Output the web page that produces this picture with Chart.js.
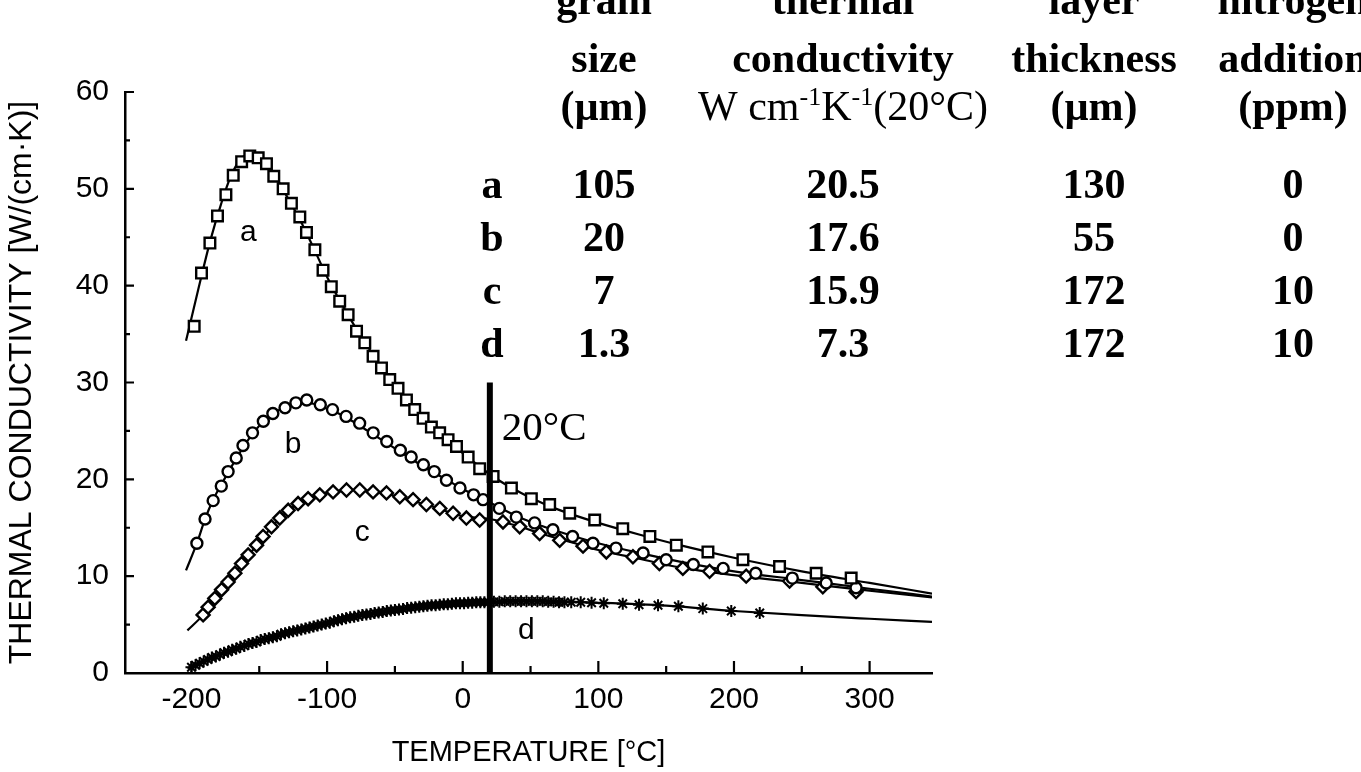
<!DOCTYPE html>
<html>
<head>
<meta charset="utf-8">
<script src="https://cdn.jsdelivr.net/npm/chart.js@4.4.1/dist/chart.umd.min.js"></script>
<style>
  html, body { margin: 0; padding: 0; background: #fff; }
  #wrap { position: relative; width: 1361px; height: 772px; }
</style>
</head>
<body>
<div id="wrap"><canvas id="kappa"></canvas></div>
<script>
// axis ticks: temperature (°C) and thermal conductivity (W/(cm·K))
var tempTicks = [-200, -150, -100, -50, 0, 50, 100, 150, 200, 250, 300];
var condTicks = [0, 5, 10, 15, 20, 25, 30, 35, 40, 45, 50, 55, 60];

// sample table
var sampleNames = ["a", "b", "c", "d"];
var grainSize = ["105", "20", "7", "1.3"];
var cond20 = [20.5, 17.6, 15.9, 7.3];
var layerThickness = ["130", "55", "172", "172"];
var nitrogenPpm = ["0", "0", "10", "10"];

// reference temperature marker
var refTemp = 20;
var refLineTop = 30;

// sample a, measured (squares)
var aTemp = [-198, -192.6, -186.4, -180.8, -174.6, -169.2, -163, -157, -150.8, -144.7,
  -139.3, -132.4, -126.3, -120.1, -115.2, -109, -103, -96.9, -90.7, -84.5,
  -78.3, -72.2, -66.1, -59.9, -53.8, -47.7, -41.5, -35.4, -29.2, -23.1,
  -17, -10.8, -4.6, 4, 12.5, 22.4, 35.9, 50.6, 64.1, 78.9,
  97.3, 118, 138, 157.5, 180.8, 206.6, 233.6, 260.6, 286.4];
var aCond = [35.8, 41.3, 44.4, 47.2, 49.4, 51.4, 52.8, 53.4, 53.2, 52.6,
  51.3, 50.0, 48.5, 47.1, 45.5, 43.7, 41.6, 39.9, 38.4, 37.0,
  35.3, 34.1, 32.7, 31.5, 30.3, 29.4, 28.2, 27.2, 26.3, 25.4,
  24.8, 24.1, 23.4, 22.3, 21.1, 20.3, 19.1, 18.0, 17.4, 16.5,
  15.8, 14.9, 14.1, 13.2, 12.5, 11.7, 11.0, 10.3, 9.8];
// sample a, fitted curve
var aFitTemp = [-204, -195, -186, -178, -171, -164, -157, -150, -143, -136,
  -128, -120, -110, -100, -90, -80, -70, -60, -50, -40,
  -30, -20, -10, 0, 10, 20, 35, 50, 70, 100,
  130, 160, 200, 250, 300, 346];
var aFitCond = [34.3, 39.6, 44.7, 48.5, 51.3, 53.0, 53.6, 53.3, 52.3, 50.8,
  48.8, 46.8, 43.9, 40.9, 38.3, 35.9, 33.7, 31.6, 29.8, 28.1,
  26.5, 25.1, 23.9, 22.7, 21.6, cond20[0], 19.2, 18.1, 16.9, 15.5,
  14.3, 13.2, 11.9, 10.5, 9.3, 8.2];

// sample b, measured (circles)
var bTemp = [-196, -190, -184, -178, -173, -167, -162, -155, -147, -140,
  -131, -123, -115, -105, -96, -86, -76, -66, -56, -46,
  -38, -29, -21, -12, -2, 8, 15, 27, 39.5, 53,
  66.5, 81, 96, 113, 133, 150, 170, 192, 216, 243,
  268, 290];
var bCond = [13.4, 15.9, 17.8, 19.3, 20.8, 22.2, 23.5, 24.8, 26.0, 26.8,
  27.4, 27.9, 28.2, 27.7, 27.2, 26.5, 25.8, 24.8, 23.9, 23.0,
  22.3, 21.5, 20.8, 19.9, 19.1, 18.4, 17.9, 17.0, 16.1, 15.5,
  14.8, 14.1, 13.4, 12.9, 12.4, 11.7, 11.2, 10.8, 10.3, 9.8,
  9.3, 8.8];
var bFitTemp = [-204, -196, -190, -184, -175, -165, -155, -145, -135, -125,
  -117, -110, -100, -90, -80, -70, -60, -50, -40, -30,
  -20, -10, 0, 10, 20, 40, 60, 80, 100, 130,
  160, 200, 250, 300, 346];
var bFitCond = [10.6, 13.4, 15.9, 17.9, 20.2, 22.6, 24.7, 26.2, 27.2, 27.8,
  28.0, 27.8, 27.3, 26.7, 25.9, 25.0, 24.1, 23.2, 22.3, 21.4,
  20.6, 19.8, 19.0, 18.3, cond20[1], 16.2, 15.1, 14.2, 13.4, 12.4,
  11.5, 10.5, 9.6, 8.7, 7.9];

// sample c, measured (diamonds)
var cTemp = [-191.4, -187.7, -182.8, -177.8, -173, -168, -163.1, -158.2, -152, -147.2,
  -141, -134.9, -128.7, -121.4, -114, -105.4, -95.6, -85.7, -75.9, -66.1,
  -56.2, -46.4, -36.6, -26.8, -16.9, -7.1, 2.7, 12.5, 29.7, 42,
  56.7, 71.5, 88.7, 105.9, 125.5, 145, 162.3, 182, 209, 241,
  265.5, 290];
var cCond = [6.0, 6.8, 7.7, 8.6, 9.4, 10.3, 11.3, 12.2, 13.2, 14.1,
  15.1, 16.0, 16.8, 17.5, 18.0, 18.4, 18.7, 18.9, 18.9, 18.7,
  18.6, 18.2, 17.9, 17.4, 17.0, 16.5, 16.0, 15.8, 15.6, 15.1,
  14.4, 13.7, 13.1, 12.5, 12.0, 11.3, 10.8, 10.5, 10.0, 9.5,
  8.9, 8.4];
var cFitTemp = [-203, -192, -180, -170, -160, -150, -140, -130, -120, -110,
  -100, -90, -80, -70, -60, -50, -40, -30, -20, -10,
  0, 20, 40, 60, 80, 100, 130, 160, 200, 250,
  300, 346];
var cFitCond = [4.4, 5.9, 8.0, 9.9, 11.8, 13.5, 15.2, 16.6, 17.6, 18.2,
  18.6, 18.8, 18.9, 18.8, 18.6, 18.3, 17.9, 17.5, 17.1, 16.6,
  16.2, cond20[2], 15.2, 14.3, 13.5, 12.7, 11.8, 10.9, 10.1, 9.3,
  8.5, 7.8];

// sample d, measured (asterisks)
var dTemp = [-200, -197, -194, -191, -188, -185, -182, -179, -176, -173,
  -170, -167, -164, -161, -158, -155, -152, -149, -146, -143,
  -140, -137, -134, -131, -128, -125, -122, -119, -116, -113,
  -110, -107, -104, -101, -98, -95, -92, -89, -86, -83,
  -80, -77, -74, -71, -68, -65, -62, -59, -56, -53,
  -50, -47, -44, -41, -38, -35, -32, -29, -26, -23,
  -20, -17, -14, -11, -8, -5, -2, 1, 4, 7,
  10, 13, 16, 19, 23, 27, 31, 35, 39, 43,
  47, 51, 55, 59, 63, 67, 71, 75, 80, 87,
  95, 104, 118, 130, 144, 159, 177, 198, 219];
var dCond = [0.6, 0.8, 1.0, 1.2, 1.4, 1.6, 1.7, 1.9, 2.1, 2.2,
  2.4, 2.5, 2.7, 2.8, 3.0, 3.1, 3.2, 3.4, 3.5, 3.6,
  3.7, 3.8, 4.0, 4.1, 4.2, 4.3, 4.4, 4.5, 4.6, 4.7,
  4.8, 4.9, 5.0, 5.1, 5.2, 5.35, 5.45, 5.55, 5.65, 5.75,
  5.8, 5.9, 6.0, 6.05, 6.1, 6.2, 6.25, 6.3, 6.4, 6.45,
  6.5, 6.55, 6.6, 6.7, 6.75, 6.8, 6.85, 6.9, 6.95, 7.0,
  7.0, 7.05, 7.1, 7.1, 7.15, 7.2, 7.2, 7.2, 7.25, 7.25,
  7.3, 7.3, 7.3, 7.3, 7.35, 7.35, 7.4, 7.4, 7.4, 7.4,
  7.4, 7.4, 7.4, 7.4, 7.35, 7.35, 7.3, 7.3, 7.3, 7.3,
  7.25, 7.2, 7.15, 7.05, 7.0, 6.9, 6.65, 6.4, 6.2];
var dFitTemp = [-203, -180, -150, -120, -90, -60, -30, 0, 20, 40, 60, 100, 150, 200, 250, 300, 346];
var dFitCond = [0.5, 1.85, 3.3, 4.5, 5.5, 6.3, 6.9, 7.2, cond20[3], 7.4, 7.4, 7.25, 6.95, 6.4, 5.97, 5.6, 5.28];

function pts(xs, ys) {
  return xs.map(function (x, i) { return { x: x, y: ys[i] }; });
}

function markers(xs, ys, style, r, bw) {
  return {
    data: pts(xs, ys),
    showLine: false,
    pointStyle: style,
    pointRadius: r,
    pointBorderWidth: bw,
    pointBorderColor: "#000",
    pointBackgroundColor: "#fff"
  };
}

function fit(xs, ys) {
  return {
    data: pts(xs, ys),
    showLine: true,
    borderColor: "#000",
    borderWidth: 2.2,
    pointRadius: 0,
    cubicInterpolationMode: "monotone"
  };
}

var sans = '"Liberation Sans", Arial, sans-serif';
var serif = '"Liberation Serif", "Times New Roman", serif';

// draws a string made of [text, isSuperscript] pieces, centred on cx
function drawPieces(ctx, pieces, cx, y, font, supFont) {
  var total = 0;
  pieces.forEach(function (p) {
    ctx.font = p[1] ? supFont : font;
    total += ctx.measureText(p[0]).width;
  });
  var x = cx - total / 2;
  ctx.textAlign = "left";
  pieces.forEach(function (p) {
    ctx.font = p[1] ? supFont : font;
    ctx.fillText(p[0], x, p[1] ? y - 15 : y);
    x += ctx.measureText(p[0]).width;
  });
}

var annotate = {
  id: "annotate",
  afterDraw: function (chart) {
    var ctx = chart.ctx;
    var xs = chart.scales.x, ys = chart.scales.y;
    ctx.save();

    // inward tick marks
    ctx.strokeStyle = "#000";
    ctx.lineWidth = 2.2;
    ctx.beginPath();
    tempTicks.forEach(function (v) {
      var px = xs.getPixelForValue(v);
      var len = v % 100 === 0 ? 12 : 7;
      ctx.moveTo(px, ys.bottom);
      ctx.lineTo(px, ys.bottom - len);
    });
    condTicks.forEach(function (v) {
      var py = ys.getPixelForValue(v);
      var len = v % 10 === 0 ? 9 : 5;
      ctx.moveTo(xs.left, py);
      ctx.lineTo(xs.left + len, py);
    });
    ctx.stroke();

    // curve letters
    ctx.fillStyle = "#000";
    ctx.font = "30px " + sans;
    ctx.textAlign = "center";
    ctx.textBaseline = "middle";
    var spots = [[-158, 45.5], [-125, 23.6], [-74, 14.5], [47, 4.4]];
    sampleNames.forEach(function (n, i) {
      ctx.fillText(n, xs.getPixelForValue(spots[i][0]), ys.getPixelForValue(spots[i][1]));
    });

    // 20°C label beside the marker line
    ctx.font = "41px " + serif;
    ctx.textAlign = "left";
    ctx.fillText(refTemp + "°C", xs.getPixelForValue(refTemp) + 12, ys.getPixelForValue(25.2));

    // sample table
    ctx.textBaseline = "alphabetic";
    var bold = "bold 42px " + serif;
    var cols = [604, 843, 1094, 1293];
    var heads = [
      ["grain", "thermal", "layer", "nitrogen"],
      ["size", "conductivity", "thickness", "addition"]
    ];
    var headBase = [14, 72];
    ctx.font = bold;
    ctx.textAlign = "center";
    heads.forEach(function (row, r) {
      row.forEach(function (t, c) { ctx.fillText(t, cols[c], headBase[r]); });
    });
    ctx.fillText("(\u00b5m)", cols[0], 120);
    ctx.fillText("(\u00b5m)", cols[2], 120);
    ctx.fillText("(ppm)", cols[3], 120);
    drawPieces(ctx, [["W cm", false], ["-1", true], ["K", false], ["-1", true], ["(20°C)", false]],
      cols[1], 120, "42px " + serif, "26px " + serif);

    ctx.font = bold;
    var rowBase = [198, 251, 304, 357];
    sampleNames.forEach(function (n, i) {
      ctx.textAlign = "center";
      ctx.fillText(n, 492, rowBase[i]);
      ctx.fillText(grainSize[i], cols[0], rowBase[i]);
      ctx.fillText(cond20[i].toFixed(1), cols[1], rowBase[i]);
      ctx.fillText(layerThickness[i], cols[2], rowBase[i]);
      ctx.fillText(nitrogenPpm[i], cols[3], rowBase[i]);
    });
    ctx.restore();
  }
};

Chart.defaults.font.family = sans;
Chart.defaults.color = "#000";

new Chart(document.getElementById("kappa"), {
  type: "scatter",
  data: {
    datasets: [
      {
        data: [{ x: refTemp, y: 0 }, { x: refTemp, y: refLineTop }],
        showLine: true,
        borderColor: "#000",
        borderWidth: 6,
        pointRadius: 0
      },
      markers(aTemp, aCond, "rect", 7.5, 2.4),
      markers(bTemp, bCond, "circle", 5.5, 2.4),
      markers(cTemp, cCond, "rectRot", 6.5, 2.4),
      markers(dTemp, dCond, "star", 6, 2),
      fit(aFitTemp, aFitCond),
      fit(bFitTemp, bFitCond),
      fit(cFitTemp, cFitCond),
      fit(dFitTemp, dFitCond)
    ]
  },
  options: {
    responsive: true,
    maintainAspectRatio: false,
    animation: false,
    layout: { padding: { top: 92, right: 429, bottom: 0, left: 0 } },
    plugins: {
      legend: { display: false },
      tooltip: { enabled: false }
    },
    scales: {
      x: {
        type: "linear",
        min: -249,
        max: 346,
        afterBuildTicks: function (scale) {
          scale.ticks = tempTicks.map(function (v) { return { value: v }; });
        },
        afterFit: function (scale) { scale.height = 99; },
        border: { display: true, color: "#000", width: 2.5 },
        grid: { drawOnChartArea: false, drawTicks: false },
        ticks: {
          autoSkip: false,
          maxRotation: 0,
          padding: 9,
          font: { size: 30 },
          callback: function (v) { return v % 100 === 0 ? v : ""; }
        },
        title: {
          display: true,
          text: "TEMPERATURE [°C]",
          font: { size: 29 },
          padding: { top: 0, bottom: 2 }
        }
      },
      y: {
        type: "linear",
        min: 0,
        max: 60,
        afterBuildTicks: function (scale) {
          scale.ticks = condTicks.map(function (v) { return { value: v }; });
        },
        afterFit: function (scale) { scale.width = 125; },
        border: { display: true, color: "#000", width: 2.5 },
        grid: { drawOnChartArea: false, drawTicks: false },
        ticks: {
          autoSkip: false,
          padding: 16,
          font: { size: 30 },
          callback: function (v) { return v % 10 === 0 ? v : ""; }
        },
        title: {
          display: true,
          text: "THERMAL CONDUCTIVITY [W/(cm\u00b7K)]",
          font: { size: 32 },
          padding: { top: 3, bottom: 0 }
        }
      }
    }
  },
  plugins: [annotate]
});
</script>
</body>
</html>
